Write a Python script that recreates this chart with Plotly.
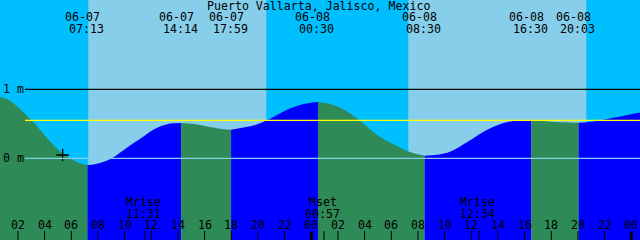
import plotly.graph_objects as go

# ---------------- data ----------------
# hours since 06-07 00:00 (local) and tide level in metres
tide_hours = [0.5, 0.65, 1.40, 3.03, 3.65, 4.40, 5.15, 5.90, 6.65, 7.217,
              8.0, 8.90, 10.25, 11.25, 12.25, 13.25, 14.233, 15.25, 16.5, 17.5, 17.983,
              19.0, 19.85, 20.68, 21.85, 22.85, 23.85, 24.5, 25.6, 26.6, 27.6,
              28.6, 29.45, 30.45, 31.45, 32.5, 33.45, 34.45, 35.7, 36.95, 38.2,
              39.05, 40.5, 42.05, 43.3, 44.05, 45.3, 46.55, 47.8, 48.7]
tide_level = [0.90, 0.888, 0.835, 0.55, 0.415, 0.246, 0.10, 0.0, -0.07, -0.10,
              -0.075, -0.015, 0.165, 0.294, 0.425, 0.497, 0.512, 0.497, 0.449, 0.42, 0.415,
              0.449, 0.487, 0.55, 0.671, 0.753, 0.80, 0.816, 0.777, 0.69, 0.55,
              0.39, 0.275, 0.174, 0.087, 0.038, 0.052, 0.10, 0.236, 0.39, 0.497,
              0.536, 0.55, 0.53, 0.52, 0.514, 0.536, 0.584, 0.632, 0.667]

# tide extremes (top labels)
extreme_hours = [-0.34, 7.217, 14.233, 17.983, 24.5, 32.5, 40.5, 44.05, 50.08]
extreme_dates = ["06-06", "06-07", "06-07", "06-07", "06-08", "06-08", "06-08", "06-08", "06-09"]
extreme_clock = ["23:40", "07:13", "14:14", "17:59", "00:30", "08:30", "16:30", "20:03", "02:05"]

# sun (day shading)
sunrise_hours = [7.275, 31.275]
sunset_hours = [20.625, 44.625]

# moon events (bottom labels)
moon_hours = [0.083, 11.517, 24.95, 36.567, 49.8]
moon_names = ["Mset", "Mrise", "Mset", "Mrise", "Mset"]
moon_clock = ["00:05", "11:31", "00:57", "12:34", "01:48"]

hour_ticks = list(range(2, 49, 2))
level_marks = [1.0, 0.0]
level_names = ["1 m", "0 m"]
mean_level = 0.55
now_hour = 5.35
now_level = 0.048

title = "Puerto Vallarta, Jalisco, Mexico"

# ---------------- style ----------------
W, H = 640, 240
X0, X1 = 0.6525, 48.6525
Y0, Y1 = -1.184, 2.294
NIGHT = "#00BFFF"
DAY = "#87CEEB"
FLOOD = "#0000FF"
EBB = "#2E8B57"
FONT = dict(family="DejaVu Sans Mono", size=11.6, color="black")


def py(px):
    return 1 - px / H


fig = go.Figure()

# flood / ebb fills between extremes
bounds = [tide_hours[0]] + [h for h in extreme_hours if tide_hours[0] < h < tide_hours[-1]] + [tide_hours[-1]]
for a, b in zip(bounds[:-1], bounds[1:]):
    xs = [h for h in tide_hours if a <= h <= b]
    ys = [lv for h, lv in zip(tide_hours, tide_level) if a <= h <= b]
    col = FLOOD if ys[-1] > ys[0] else EBB
    fig.add_trace(go.Scatter(
        x=[xs[0], xs[-1]], y=[Y0 - 1, Y0 - 1], mode="lines",
        line=dict(width=0, color=col), hoverinfo="skip", showlegend=False))
    fig.add_trace(go.Scatter(
        x=xs, y=ys, fill="tonexty", fillcolor=col,
        mode="lines", line=dict(width=0, color=col, shape="spline", smoothing=1.0),
        hoverinfo="skip", showlegend=False))

# current-time marker
fig.add_trace(go.Scatter(
    x=[now_hour], y=[now_level], mode="markers",
    marker=dict(symbol="cross-thin", size=9, line=dict(width=1.3, color="black")),
    showlegend=False, hoverinfo="skip"))

shapes = []
for r, s in zip(sunrise_hours, sunset_hours):
    shapes.append(dict(type="rect", xref="x", yref="paper", x0=r, x1=s, y0=0, y1=1,
                       fillcolor=DAY, line=dict(width=0), layer="below"))

# level lines
line_x0 = 25 / W
shapes.append(dict(type="line", xref="paper", yref="y", x0=line_x0, x1=1,
                   y0=level_marks[0], y1=level_marks[0], line=dict(color="black", width=1.2)))
shapes.append(dict(type="line", xref="paper", yref="y", x0=line_x0, x1=1,
                   y0=level_marks[1], y1=level_marks[1], line=dict(color=DAY, width=1.2)))
shapes.append(dict(type="line", xref="paper", yref="y", x0=line_x0, x1=1,
                   y0=mean_level, y1=mean_level, line=dict(color="#FFFF00", width=1.4)))

# hour ticks
for h in hour_ticks:
    major = h % 24 == 0
    shapes.append(dict(type="line", xref="x", yref="paper", x0=h, x1=h,
                       y0=0, y1=py(231) if not major else py(231.5),
                       line=dict(color="black", width=3 if major else 1)))
# moon ticks
for h in moon_hours:
    if X0 < h < X1:
        shapes.append(dict(type="line", xref="x", yref="paper", x0=h, x1=h,
                           y0=0, y1=py(231), line=dict(color="black", width=1)))

ann = []
ann.append(dict(text=title, x=0.498, xref="paper", y=py(5.5), yref="paper",
                showarrow=False, font=FONT, xanchor="center", yanchor="middle"))
for h, d, c in zip(extreme_hours, extreme_dates, extreme_clock):
    ann.append(dict(text=d, x=h, xref="x", y=py(17.5), yref="paper", xshift=-5,
                    showarrow=False, font=FONT, xanchor="center", yanchor="middle"))
    ann.append(dict(text=c, x=h, xref="x", y=py(28.8), yref="paper", xshift=-1,
                    showarrow=False, font=FONT, xanchor="center", yanchor="middle"))
for h, n, c in zip(moon_hours, moon_names, moon_clock):
    ann.append(dict(text=n, x=h, xref="x", y=py(202), yref="paper", xshift=-1,
                    showarrow=False, font=FONT, xanchor="center", yanchor="middle"))
    ann.append(dict(text=c, x=h, xref="x", y=py(213.7), yref="paper", xshift=-1,
                    showarrow=False, font=FONT, xanchor="center", yanchor="middle"))
for h in hour_ticks:
    ann.append(dict(text=f"{h % 24:02d}", x=h, xref="x", y=py(225.3), yref="paper",
                    showarrow=False, font=FONT, xanchor="center", yanchor="middle"))
for lv, nm in zip(level_marks, level_names):
    ann.append(dict(text=nm, x=1 / W, xref="paper", y=lv, yref="y",
                    showarrow=False, font=FONT, xanchor="left", yanchor="middle"))

fig.update_layout(
    width=W, height=H, margin=dict(l=0, r=0, t=0, b=0, pad=0),
    paper_bgcolor=NIGHT, plot_bgcolor=NIGHT,
    xaxis=dict(range=[X0, X1], visible=False, showgrid=False, zeroline=False, fixedrange=True),
    yaxis=dict(range=[Y0, Y1], visible=False, showgrid=False, zeroline=False, fixedrange=True),
    shapes=shapes, annotations=ann, showlegend=False,
)

fig.write_html("out.html", config=dict(displayModeBar=False))
